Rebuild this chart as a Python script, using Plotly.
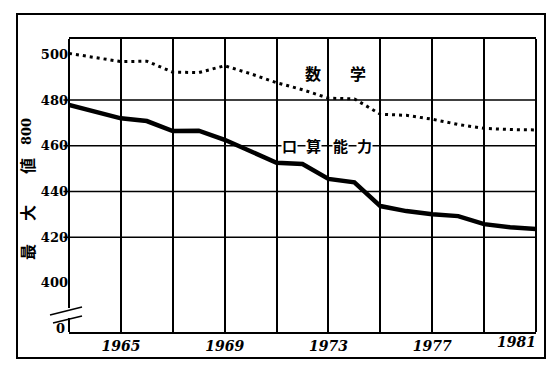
import plotly.graph_objects as go

years = list(range(1963, 1982))
math_scores = [500.4, 498.5, 496.8, 497.0, 492.2, 492.0, 495.0, 491.5, 487.6, 484.5,
               480.8, 480.5, 473.8, 473.3, 471.6, 469.3, 467.6, 467.1, 466.9]
verbal_scores = [477.8, 475.0, 472.0, 470.8, 466.4, 466.6, 462.6, 457.6, 452.5, 452.0,
                 445.5, 444.0, 433.6, 431.4, 430.0, 429.2, 425.7, 424.3, 423.6]

x_tickvals = [1965, 1967, 1969, 1971, 1973, 1975, 1977, 1979, 1981]
x_ticklabels = ["1965", "", "1969", "", "1973", "", "1977", "", "1981"]
y_tickvals = [400, 420, 440, 460, 480, 500]
y_gridvals = [420, 440, 460, 480]

math_label = ["数", "学"]
verbal_label = ["口", "算", "能", "力"]
y_title = ["最", "大", "値", "800"]

# the page body has an 8px margin; the figure is placed at (8, 8)
OFF = 8
W, H = 560 - OFF, 368 - OFF
L, R, T, B = 69 - OFF, 536 - OFF, 39 - OFF, 332 - OFF
pw, ph = R - L, B - T


def px(xp):
    return (xp - OFF - L) / pw


def py(yp):
    return (B - (yp - OFF)) / ph


fig = go.Figure()
# math series drawn on the overlaying x axis (same range) so that axis is rendered
fig.add_trace(go.Scatter(x=years, y=math_scores, mode="lines", xaxis="x2", yaxis="y",
                         line=dict(color="black", width=3, dash="3px,4px"),
                         showlegend=False, hoverinfo="skip"))
fig.add_trace(go.Scatter(x=years, y=verbal_scores, mode="lines",
                         line=dict(color="black", width=4.5),
                         showlegend=False, hoverinfo="skip"))

# last label sits right-aligned at the right edge (second, overlaying axis)
main_text = ["<b><i>" + t + "</i></b>" if t else "" for t in x_ticklabels[:-1]] + [""]
last_val = x_tickvals[-1]
last_text = "<b><i>" + x_ticklabels[-1] + "</i></b>"

shapes = []
# horizontal gridlines
for g in y_gridvals:
    shapes.append(dict(type="line", xref="paper", yref="y", x0=-0.012, x1=1, y0=g, y1=g,
                       line=dict(color="black", width=1.5), layer="below"))
# left axis with break
shapes.append(dict(type="line", xref="paper", yref="paper", x0=0, x1=0, y0=py(308), y1=1,
                   line=dict(color="black", width=2)))
shapes.append(dict(type="line", xref="paper", yref="paper", x0=0, x1=0, y0=0, y1=py(318),
                   line=dict(color="black", width=2)))
shapes.append(dict(type="line", xref="paper", yref="paper", x0=px(50), x1=px(82),
                   y0=py(315), y1=py(307), line=dict(color="black", width=1.5)))
shapes.append(dict(type="line", xref="paper", yref="paper", x0=px(53), x1=px(82),
                   y0=py(323), y1=py(316), line=dict(color="black", width=1.5)))
# right border
shapes.append(dict(type="line", xref="paper", yref="paper", x0=1, x1=1, y0=0, y1=1,
                   line=dict(color="black", width=2)))
# outer frame
shapes.append(dict(type="rect", xref="paper", yref="paper", x0=px(17), x1=px(545),
                   y0=py(358), y1=py(14), line=dict(color="black", width=2), layer="below"))

annotations = []
cjk = "Noto Sans CJK JP"
common = dict(xref="paper", yref="paper", showarrow=False, xanchor="center", yanchor="middle")
for ch, xp in zip(math_label, [313, 358]):
    annotations.append(dict(text="<b>" + ch + "</b>", x=px(xp), y=py(73),
                            font=dict(family=cjk, size=16, color="black"), **common))
for ch, xp in zip(verbal_label, [289, 313, 340, 364]):
    annotations.append(dict(text="<b>" + ch + "</b>", x=px(xp), y=py(145),
                            bgcolor="white", borderpad=0,
                            font=dict(family=cjk, size=15, color="black"), **common))
for t, yp in zip(y_title, [252, 213, 166, 132]):
    fam = "DejaVu Serif" if t.isdigit() else cjk
    sz = 13 if t.isdigit() else 16
    annotations.append(dict(text="<b>" + t + "</b>", x=px(27), y=py(yp), textangle=-90,
                            font=dict(family=fam, size=sz, color="black"), **common))
annotations.append(dict(text="<b>0</b>", x=px(60), y=py(328),
                        font=dict(family="DejaVu Serif", size=13, color="black"), **common))

tickfont_x = dict(family="DejaVu Serif", size=14, color="black")
fig.update_layout(
    width=W, height=H,
    margin=dict(l=L, r=W - R, t=T, b=H - B),
    paper_bgcolor="white", plot_bgcolor="white",
    xaxis=dict(range=[1963, 1981], tickvals=x_tickvals, ticktext=main_text,
               showgrid=True, gridcolor="black", gridwidth=1.5,
               showline=True, linecolor="black", linewidth=2, mirror=True,
               ticks="", zeroline=False, tickfont=tickfont_x),
    xaxis2=dict(range=[1963, 1981], overlaying="x", side="bottom", anchor="y",
                tickvals=[last_val], ticktext=[last_text], ticklabelposition="outside left",
                showgrid=False, showline=False, ticks="", zeroline=False, tickfont=tickfont_x),
    yaxis=dict(range=[378.5, 506.7], tickvals=y_tickvals,
               ticktext=["<b>%d</b>" % v for v in y_tickvals],
               showgrid=False, showline=False, ticks="", zeroline=False,
               tickfont=dict(family="DejaVu Serif", size=13, color="black")),
    shapes=shapes, annotations=annotations,
)

fig.write_html("out.html")
